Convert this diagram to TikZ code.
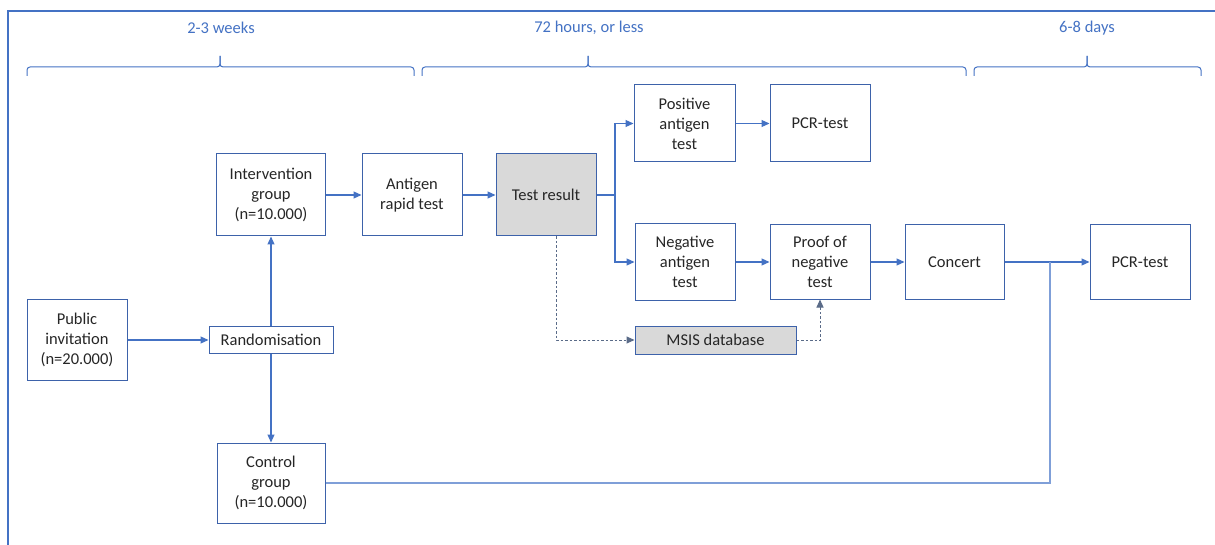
\documentclass[tikz,border=0pt]{standalone}
\usepackage{fontspec}
\setmainfont{Carlito}
\usetikzlibrary{arrows.meta}
\definecolor{accent}{HTML}{4472C4}
\definecolor{boxline}{HTML}{3D62AA}
\definecolor{lightline}{HTML}{7F9FD8}
\definecolor{dashcol}{HTML}{5A6B88}
\definecolor{graybox}{HTML}{D9D9D9}
\definecolor{txt}{HTML}{262626}
\begin{document}
\begin{tikzpicture}[x=1pt,y=-1pt,
  every node/.style={font=\fontsize{16.5}{20}\selectfont, text=txt},
  box/.style={draw=boxline, line width=1pt, fill=white, align=center, inner sep=0pt},
  graybx/.style={box, fill=graybox},
  arr/.style={draw=accent, line width=1.1pt, -{Triangle[length=8pt,width=7pt]}},
  ln/.style={draw=accent, line width=1.1pt},
  lightln/.style={draw=lightline, line width=1.6pt},
  dsh/.style={draw=dashcol, line width=1pt, dash pattern=on 2.5pt off 2pt, -{Triangle[length=8pt,width=7pt]}},
  brace/.style={draw=accent, line width=1pt, rounded corners=3pt},
  toplabel/.style={text=accent}
]
\useasboundingbox (0,0) rectangle (1215,545);
\fill[white] (0,0) rectangle (1215,545);
\draw[accent, line width=2pt] (8,546) -- (8,11) -- (1216,11);

% top labels
\node[toplabel] (l1) at (221,28) {2-3 weeks};
\node[toplabel] (l2) at (589,28) {72 hours, or less};
\node[toplabel] (l3) at (1087,28) {6-8 days};

% braces
\draw[brace] (27,76) -- (27,67) -- (220,67) -- (220,56);
\draw[brace] (220,56) -- (220,67) -- (414,67) -- (414,76);
\draw[brace] (422,76) -- (422,67) -- (588,67) -- (588,56);
\draw[brace] (588,56) -- (588,67) -- (966,67) -- (966,76);
\draw[brace] (974,76) -- (974,67) -- (1087,67) -- (1087,56);
\draw[brace] (1087,56) -- (1087,67) -- (1201,67) -- (1201,76);

% nodes
\node[box, minimum width=100pt, minimum height=81pt] (pub) at (77,340) {Public\\invitation\\(n=20.000)};
\node[box, minimum width=124pt, minimum height=27pt] (rand) at (271,340) {Randomisation};
\node[box, minimum width=109pt, minimum height=82pt] (int) at (271,195) {Intervention\\group\\(n=10.000)};
\node[box, minimum width=108pt, minimum height=80pt] (ctrl) at (271,483) {Control\\group\\(n=10.000)};
\node[box, minimum width=100pt, minimum height=82pt] (ant) at (412,195) {Antigen\\rapid test};
\node[graybx, minimum width=100pt, minimum height=82pt] (tr) at (546,195) {Test result};
\node[box, minimum width=101pt, minimum height=77pt] (pos) at (684.5,123.5) {Positive\\antigen\\test};
\node[box, minimum width=100pt, minimum height=77pt] (pcr1) at (820,123.5) {PCR-test};
\node[box, minimum width=100pt, minimum height=77pt] (neg) at (685,262) {Negative\\antigen\\test};
\node[box, minimum width=100pt, minimum height=74pt] (proof) at (820,262) {Proof of\\negative\\test};
\node[box, minimum width=99pt, minimum height=74pt] (conc) at (954.5,262) {Concert};
\node[box, minimum width=100pt, minimum height=74pt] (pcr2) at (1140,262) {PCR-test};
\node[graybx, minimum width=161pt, minimum height=28pt] (msis) at (715.5,340) {MSIS database};

% connectors
\draw[arr] (pub) -- (rand);
\draw[arr] (rand) -- (int);
\draw[arr] (rand) -- (ctrl);
\draw[arr] (int) -- (ant);
\draw[arr] (ant) -- (tr);
\coordinate (br) at (615,195);
\draw[ln] (tr) -- (br);
\draw[arr] (br) |- (pos);
\draw[arr] (br) |- (neg);
\draw[arr] (pos) -- (pcr1);
\draw[arr] (neg) -- (proof);
\draw[arr] (proof) -- (conc);
\draw[arr] (conc) -- (pcr2);
\coordinate (j) at (1050,262);
\draw[lightln] (ctrl.east) -| (j);
\draw[dsh] ([xshift=10pt]tr.south) |- (msis.west);
\draw[dsh] (msis.east) -| (proof.south);
\end{tikzpicture}
\end{document}
